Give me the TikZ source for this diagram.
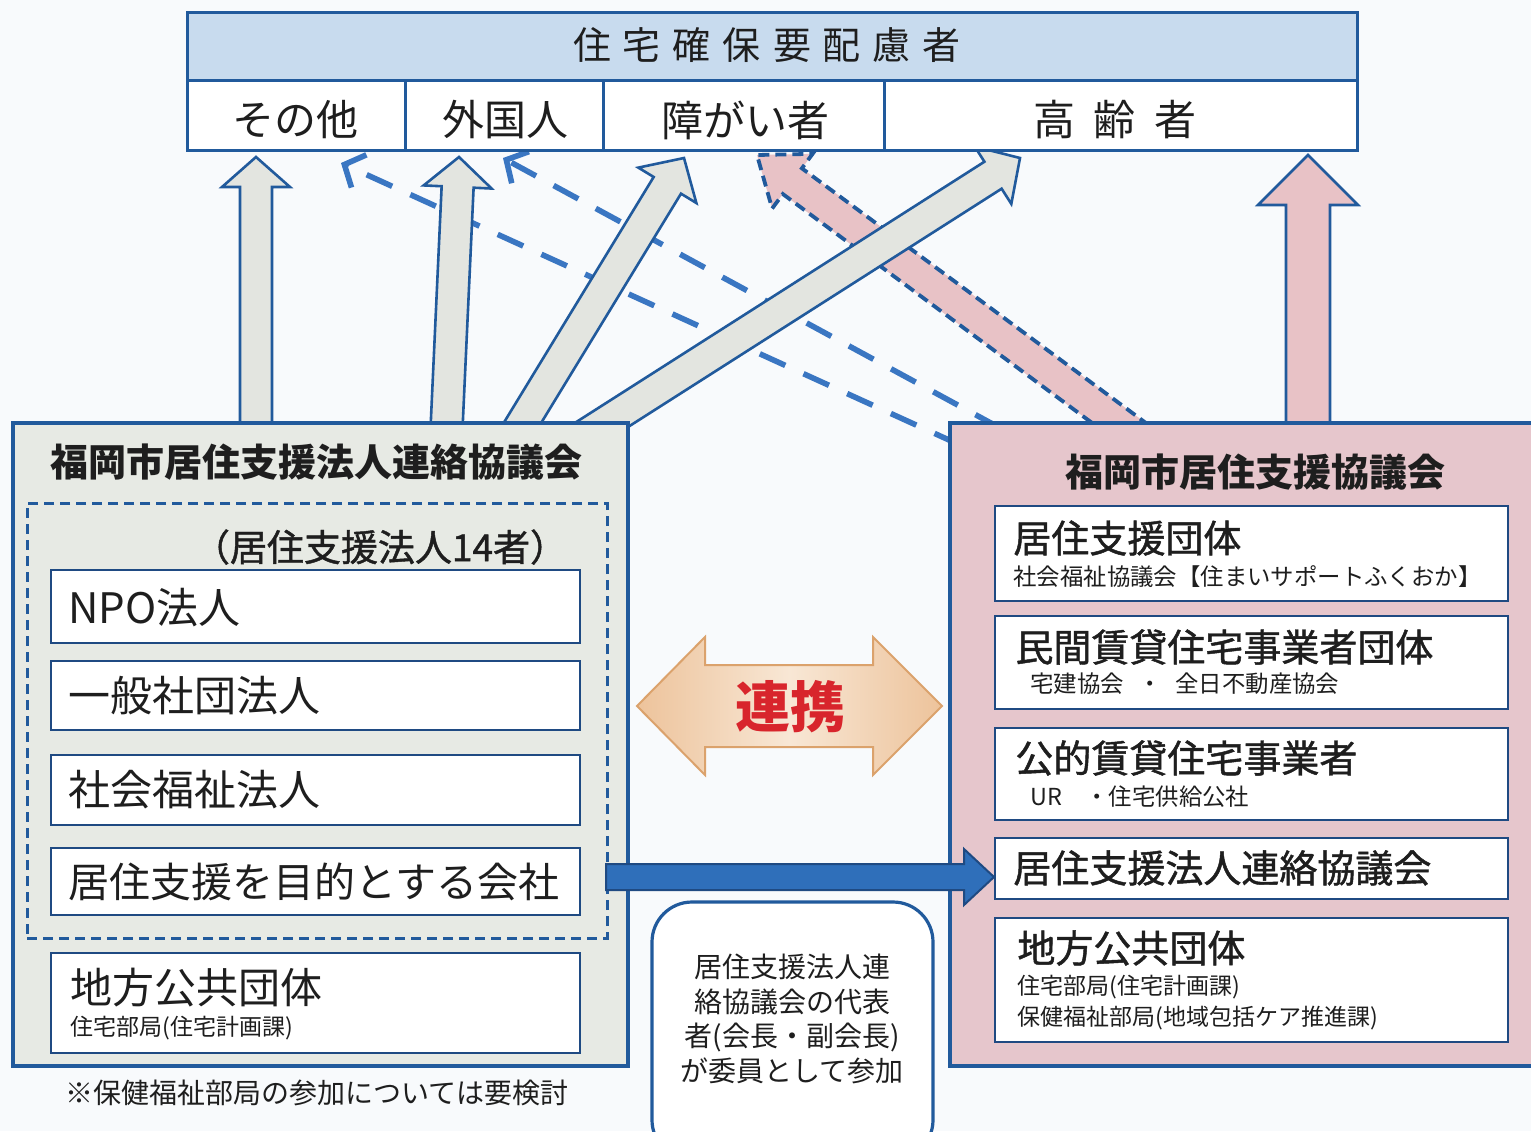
\documentclass[tikz,border=0pt]{standalone}
\usepackage{fontspec}
\setmainfont{Noto Sans CJK JP}
\newfontfamily\semib[FakeBold=1.2]{Noto Sans CJK JP}
\usetikzlibrary{calc,fit,arrows.meta}
\definecolor{bgc}{HTML}{F8FAFC}
\definecolor{bord}{HTML}{215A9C}
\definecolor{navy}{HTML}{1F4A82}
\definecolor{hdrblue}{HTML}{C8DBEE}
\definecolor{leftfill}{HTML}{E7EAE4}
\definecolor{rightfill}{HTML}{E6C6CC}
\definecolor{arrgray}{HTML}{E3E5E0}
\definecolor{arrpink}{HTML}{E8C2C6}
\definecolor{dashblue}{HTML}{3A76C2}
\definecolor{ink}{HTML}{1E1E1E}
\definecolor{redtxt}{HTML}{D8252C}
\definecolor{ordark}{HTML}{EDC39B}
\definecolor{orlight}{HTML}{F8E7D5}
\definecolor{orbord}{HTML}{DBA26C}
\definecolor{bluearr}{HTML}{2F6FBA}
\newcommand\fs[1]{\fontsize{#1}{#1}\selectfont}
\newcommand\gp{\hspace{6pt}}
\newcommand\gq{\hspace{9.5pt}}
% fat arrow: start, end, shaft half width, head half width, head length, style
\newcommand\fatarrow[6]{%
  \coordinate (fab) at ($(#2)!#5!(#1)$);
  \path[#6] ($(#1)!#3!90:(#2)$) -- ($(fab)!#3!-90:(#1)$) -- ($(fab)!#4!-90:(#1)$) -- (#2)
    -- ($(fab)!#4!90:(#1)$) -- ($(fab)!#3!90:(#1)$) -- ($(#1)!#3!-90:(#2)$) -- cycle;}
\tikzset{
  bigbox/.style={draw=bord, line width=1.6pt, inner sep=0pt},
  cell/.style={draw=bord, line width=1.5pt, fill=white, inner sep=0pt},
  inbox/.style={draw=navy, line width=1pt, fill=white, inner sep=0pt},
  txt/.style={inner sep=0pt, text=ink},
  grayarrow/.style={fill=arrgray, draw=bord, line width=1.3pt, line join=miter},
  pinkarrow/.style={fill=arrpink, draw=bord, line width=1.3pt, line join=miter},
  pinkdash/.style={fill=arrpink, draw=bord, line width=1.9pt, line join=miter, dash pattern=on 5.5pt off 3pt},
  bluedash/.style={draw=dashblue, line width=2.8pt, dash pattern=on 14pt off 10pt, -{Straight Barb[length=8pt,width=18pt]}},
}
\begin{document}
\begin{tikzpicture}[x=0.5pt,y=-0.5pt]
\clip (0,0) rectangle (1531,1131);
\fill[bgc] (0,0) rectangle (1531,1131);

% arrow end points
\coordinate (a1s) at (256,440); \coordinate (a1e) at (256,157);
\coordinate (a2s) at (446,440); \coordinate (a2e) at (459,157);
\coordinate (a3s) at (512,440); \coordinate (a3e) at (684,158);
\coordinate (a4s) at (570,445); \coordinate (a4e) at (1020,158);
\coordinate (pds) at (1142,440); \coordinate (pde) at (757,155);
\coordinate (pvs) at (1308,440); \coordinate (pve) at (1308,155);
\coordinate (l1s) at (960,445); \coordinate (l1e) at (341,163);
\coordinate (l2s) at (1000,428); \coordinate (l2e) at (503,158);

% dashed blue connectors
\draw[bluedash] (l1s) -- (l1e);
\draw[bluedash] (l2s) -- (l2e);
% pink arrows
\fatarrow{pds}{pde}{8pt}{17pt}{22pt}{pinkdash}
\fatarrow{pvs}{pve}{11pt}{25pt}{25pt}{pinkarrow}
% gray arrows
\fatarrow{a1s}{a1e}{8pt}{17pt}{15pt}{grayarrow}
\fatarrow{a2s}{a2e}{8pt}{17pt}{15pt}{grayarrow}
\fatarrow{a3s}{a3e}{8pt}{17pt}{16pt}{grayarrow}
\fatarrow{a4s}{a4e}{8pt}{17pt}{16pt}{grayarrow}

% header
\node[fit={(187,12)(1357,80)}, cell, fill=hdrblue] (hdr) {};
\node[fit={(187,80)(405,150)}, cell] (c1) {};
\node[fit={(405,80)(603,150)}, cell] (c2) {};
\node[fit={(603,80)(884,150)}, cell] (c3) {};
\node[fit={(884,80)(1357,150)}, cell] (c4) {};
\node[txt, font=\fs{19pt}] (hdrt) at (767,45) {住\gp 宅\gp 確\gp 保\gp 要\gp 配\gp 慮\gp 者};
\node[txt, font=\fs{21pt}] (t1) at (295,120) {その他};
\node[txt, font=\fs{21pt}] (t2) at (505,120) {外国人};
\node[txt, font=\fs{21pt}] (t3) at (745,120) {障がい者};
\node[txt, font=\fs{21pt}] (t4) at (1115,120) {高\gq 齢\gq 者};

% left box
\node[fit={(13,423)(628,1066)}, bigbox, fill=leftfill] (lbox) {};
\node[txt, font=\bfseries\fs{19pt}] (ltitle) at (316,462) {福岡市居住支援法人連絡協議会};
\node[fit={(27,503)(607,938)}, draw=bord, line width=1.5pt, dash pattern=on 5pt off 3pt, inner sep=0pt] (dbox) {};
\node[txt, font=\semib\fs{18.5pt}] (dtitle) at (380,547) {（居住支援法人14者）};
\node[fit={(51,570)(580,643)}, inbox] (lb1) {};
\node[fit={(51,661)(580,730)}, inbox] (lb2) {};
\node[fit={(51,755)(580,825)}, inbox] (lb3) {};
\node[fit={(51,848)(580,915)}, inbox] (lb4) {};
\node[fit={(51,953)(580,1053)}, inbox] (lb5) {};
\node[txt, anchor=west, font=\fs{21pt}] at (68,608) {NPO法人};
\node[txt, anchor=west, font=\fs{21pt}] at (68,696) {一般社団法人};
\node[txt, anchor=west, font=\fs{21pt}] at (68,790) {社会福祉法人};
\node[txt, anchor=west, font=\fs{20.5pt}] at (68,882) {居住支援を目的とする会社};
\node[txt, anchor=west, font=\fs{21pt}] at (70,988) {地方公共団体};
\node[txt, anchor=west, font=\fs{11.5pt}] at (70,1028) {住宅部局(住宅計画課)};
\node[txt, anchor=west, font=\fs{14pt}] (note) at (65,1093) {※保健福祉部局の参加については要検討};

% right box
\node[fit={(950,423)(1545,1066)}, bigbox, fill=rightfill] (rbox) {};
\node[txt, font=\bfseries\fs{19pt}] (rtitle) at (1255,472) {福岡市居住支援協議会};
\node[fit={(995,506)(1508,601)}, inbox] (rb1) {};
\node[fit={(995,616)(1508,709)}, inbox] (rb2) {};
\node[fit={(995,728)(1508,820)}, inbox] (rb3) {};
\node[fit={(995,838)(1508,899)}, inbox] (rb4) {};
\node[fit={(995,918)(1508,1042)}, inbox] (rb5) {};
\node[txt, anchor=west, font=\semib\fs{19pt}] at (1013,538) {居住支援団体};
\node[txt, anchor=west, font=\fs{11.7pt}] at (1013,577) {社会福祉協議会【住まいサポートふくおか】};
\node[txt, anchor=west, font=\semib\fs{19pt}] at (1015,647) {民間賃貸住宅事業者団体};
\node[txt, anchor=west, font=\fs{11.7pt}] at (1030,684) {宅建協会\hspace{0.6em}・\hspace{0.6em}全日不動産協会};
\node[txt, anchor=west, font=\semib\fs{19pt}] at (1015,758) {公的賃貸住宅事業者};
\node[txt, anchor=west, font=\fs{11.7pt}] at (1030,797) {UR\hspace{1em}・住宅供給公社};
\node[txt, anchor=west, font=\semib\fs{19pt}] at (1013,868) {居住支援法人連絡協議会};
\node[txt, anchor=west, font=\semib\fs{19pt}] at (1017,948) {地方公共団体};
\node[txt, anchor=west, font=\fs{11.5pt}] at (1017,987) {住宅部局(住宅計画課)};
\node[txt, anchor=west, font=\fs{11.5pt}] at (1017,1018) {保健福祉部局(地域包括ケア推進課)};

% double arrow
\path[draw=orbord, line width=1pt, left color=ordark, right color=ordark, middle color=orlight]
  (637,706) -- (705,637) -- (705,665) -- (873,665) -- (873,637) -- (942,706)
  -- (873,775) -- (873,747) -- (705,747) -- (705,775) -- cycle;
\node[txt, text=redtxt, font=\bfseries\fs{27.5pt}] (renkei) at (790,707) {連携};

% blue arrow
\coordinate (bas) at (606,877); \coordinate (bae) at (994,877);
\fatarrow{bas}{bae}{6.5pt}{14pt}{15pt}{fill=bluearr, draw=navy, line width=1pt, line join=miter}

% rounded box
\node[fit={(652,902)(933,1160)}, draw=bord, line width=1.6pt, fill=white, rounded corners=20pt, inner sep=0pt] (rbox2) {};
\node[txt, align=center, font=\fontsize{14pt}{17.3pt}\selectfont] (rtext) at (792,1019) {居住支援法人連\\絡協議会の代表\\者(会長・副会長)\\が委員として参加};
\end{tikzpicture}
\end{document}
